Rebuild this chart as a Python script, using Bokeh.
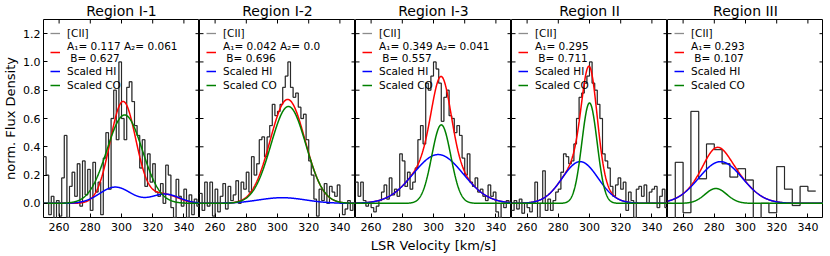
import numpy as np
from bokeh.plotting import figure
from bokeh.layouts import row
from bokeh.models import Range1d, FixedTicker, Legend, LegendItem, PrintfTickFormatter
from bokeh.embed import file_html
from bokeh.resources import INLINE

FONT = "DejaVu Sans"

regions = ["Region I-1", "Region I-2", "Region I-3", "Region II", "Region III"]
fit_labels = [
    "A\u2081= 0.117 A\u2082= 0.061\n B= 0.627",
    "A\u2081= 0.042 A\u2082= 0.0\n B= 0.696",
    "A\u2081= 0.349 A\u2082= 0.041\n B= 0.557",
    "A\u2081= 0.295\n B= 0.711",
    "A\u2081= 0.293\n B= 0.107",
]
x_ticks = [260, 280, 300, 320, 340]
y_ticks = [0.0, 0.2, 0.4, 0.6, 0.8, 1.0, 1.2]
x_lim = (250, 350)
y_lim = (-0.1, 1.3)

# [CII] spectra: channel start velocity, channel width (km/s) and channel values
cii_start = [250.0, 250.0, 250.0, 250.0, 250.0]
cii_width = [5 / 3, 5 / 3, 5 / 3, 5 / 3, 5.0]
cii_i1 = [0.33, 0.20, -0.08, 0.05, -0.11, 0.02, -0.09, 0.18, 0.48, -0.10,
          0.12, 0.22, 0.05, 0.28, -0.02, 0.30, 0.06, 0.24, -0.05, 0.29,
          0.08, 0.15, -0.08, 0.32, 0.50, 0.10, 0.60, 0.80, 0.45, 1.00,
          0.60, 0.45, 0.82, 0.86, 0.72, 0.55, 0.48, 0.25, 0.45, 0.12,
          0.35, 0.15, 0.28, 0.08, 0.05, 0.14, 0.00, 0.27, 0.20, -0.03,
          -0.10, 0.17, 0.05, -0.02, 0.10, -0.10, 0.06, -0.08, 0.03, -0.02]
cii_i2 = [0.07, -0.05, 0.15, -0.02, 0.15, -0.09, 0.10, -0.06, 0.05, 0.14,
          -0.04, 0.12, 0.02, 0.06, 0.16, 0.00, 0.15, 0.10, 0.22, 0.08,
          0.33, 0.20, 0.28, 0.45, 0.47, 0.33, 0.47, 0.55, 0.70, 0.62,
          0.65, 0.70, 0.82, 0.90, 1.00, 0.82, 0.75, 0.78, 0.68, 0.60,
          0.63, 0.45, 0.30, 0.20, 0.03, -0.09, 0.10, 0.02, 0.14, 0.00,
          0.12, 0.08, 0.05, 0.13, 0.00, -0.08, -0.04, 0.02, -0.05, 0.00]
cii_i3 = [0.15, 0.05, 0.15, 0.02, -0.02, 0.00, -0.03, -0.06, -0.02, 0.02,
          0.08, 0.13, 0.03, 0.18, 0.06, 0.10, 0.05, 0.35, 0.30, 0.12,
          0.22, 0.10, 0.15, 0.25, 0.45, 0.55, 0.42, 0.85, 0.80, 0.90,
          1.00, 0.95, 0.85, 0.58, 0.75, 0.80, 0.62, 0.60, 0.50, 0.55,
          0.48, 0.32, 0.20, 0.35, 0.15, 0.12, 0.18, 0.08, 0.10, 0.05,
          0.02, 0.13, 0.05, 0.08, -0.06, -0.10, 0.00, -0.03, 0.02, 0.00]
cii_ii = [-0.05, 0.02, -0.04, 0.03, -0.07, 0.00, -0.03, -0.06, 0.00, 0.15,
          -0.10, 0.00, 0.23, -0.05, 0.03, -0.05, 0.02, 0.08, 0.10, 0.22,
          0.35, 0.33, 0.28, 0.30, 0.42, 0.60, 0.75, 0.78, 0.85, 0.90,
          1.00, 0.85, 0.80, 0.70, 0.60, 0.35, 0.30, 0.25, 0.12, 0.05,
          0.13, 0.18, 0.10, 0.15, -0.05, 0.08, 0.02, -0.10, 0.10, 0.12,
          0.05, 0.13, 0.00, 0.08, 0.10, 0.12, -0.03, 0.05, 0.10, -0.03]
cii_iii = [-0.15, 0.29, -0.066, 0.65, 0.174, 0.42, 0.38, 0.28, 0.186, 0.245,
           0.165, -0.15, 0.0, -0.066, 0.26, 0.10, -0.015, 0.12, 0.087]
cii_values = [cii_i1, cii_i2, cii_i3, cii_ii, cii_iii]

# Model components: (amplitude, centre km/s, sigma km/s)
hi_components = [
    [(0.115, 296.0, 10.0), (0.065, 328.0, 9.0)],
    [(0.040, 303.0, 15.0)],
    [(0.345, 303.0, 16.0)],
    [(0.295, 294.0, 11.5)],
    [(0.295, 284.0, 14.0)],
]
co_components = [
    [(0.625, 302.0, 11.3)],
    [(0.685, 307.0, 11.2)],
    [(0.555, 305.0, 6.1)],
    [(0.710, 300.0, 4.9)],
    [(0.105, 281.0, 7.0)],
]
fit_components = [
    [(0.720, 301.0, 8.3), (0.065, 327.0, 9.0)],
    [(0.735, 306.5, 11.2)],
    [(0.345, 303.0, 16.0), (0.555, 305.0, 6.1)],
    [(0.295, 294.0, 11.5), (0.710, 300.0, 4.9)],
    [(0.295, 284.0, 14.0), (0.105, 281.0, 7.0)],
]

v_model = np.linspace(x_lim[0], x_lim[1], 501)


def model(components):
    y = np.zeros_like(v_model)
    for a, c, s in components:
        y += a * np.exp(-0.5 * ((v_model - c) / s) ** 2)
    return y


def style_axis(axis):
    axis.major_label_text_font = FONT
    axis.major_label_text_font_size = "11px"
    axis.major_label_text_color = "black"
    axis.major_tick_in = 4
    axis.major_tick_out = 0
    axis.minor_tick_in = 0
    axis.minor_tick_out = 0
    axis.axis_line_color = None
    axis.major_tick_line_color = "black"
    axis.axis_label_text_font = FONT
    axis.axis_label_text_font_size = "13px"
    axis.axis_label_text_font_style = "normal"
    axis.axis_label_text_color = "black"


panels = []
for i in range(5):
    first = i == 0
    p = figure(frame_width=156, frame_height=198,
               x_range=Range1d(*x_lim), y_range=Range1d(*y_lim),
               output_backend="svg", toolbar_location=None, title=regions[i],
               min_border_left=0, min_border_right=0, min_border_top=0, min_border_bottom=0)
    p.title.text_font = FONT
    p.title.text_font_size = "14px"
    p.title.text_font_style = "normal"
    p.title.text_color = "black"
    p.title.align = "center"
    p.title.standoff = 1
    p.grid.visible = False
    p.outline_line_color = "black"
    p.outline_line_alpha = 1.0
    p.outline_line_width = 1
    p.background_fill_color = "white"

    xa = p.xaxis[0]
    xa.ticker = FixedTicker(ticks=x_ticks)
    style_axis(xa)
    xa.major_label_standoff = 5
    if i == 2:
        xa.axis_label = "LSR Velocity [km/s]"
    xa.axis_label_standoff = 4

    ya = p.yaxis[0]
    if first:
        ya.ticker = FixedTicker(ticks=y_ticks)
        ya.formatter = PrintfTickFormatter(format="%.1f")
        style_axis(ya)
        ya.major_label_standoff = 3
        ya.axis_label = "norm. Flux Density"
        ya.axis_label_standoff = 2
    else:
        ya.visible = False
        # inward tick marks on the left spine
        p.ray(x=[x_lim[0]] * len(y_ticks), y=y_ticks, length=4, length_units="screen",
              angle=0, line_color="black", line_width=1)

    # inward tick marks on the top and right spines
    p.ray(x=x_ticks, y=[y_lim[1]] * len(x_ticks), length=4, length_units="screen",
          angle=-np.pi / 2, line_color="black", line_width=1)
    p.ray(x=[x_lim[1]] * len(y_ticks), y=y_ticks, length=4, length_units="screen",
          angle=np.pi, line_color="black", line_width=1)

    vals = cii_values[i]
    edges = [cii_start[i] + k * cii_width[i] for k in range(len(vals) + 1)]
    ys = list(vals) + [vals[-1]]
    r_leg = p.step(edges, ys, mode="after", line_color="#8c8c8c", line_width=1.3)
    p.step(edges, ys, mode="after", line_color="black", line_width=0.7)

    r_fit = p.line(v_model, model(fit_components[i]), line_color="#ff0000", line_width=1.5)
    r_hi = p.line(v_model, model(hi_components[i]), line_color="#0000ff", line_width=1.5)
    r_co = p.line(v_model, model(co_components[i]), line_color="#008000", line_width=1.5)

    legend = Legend(items=[
        LegendItem(label="[CII]", renderers=[r_leg]),
        LegendItem(label=fit_labels[i], renderers=[r_fit]),
        LegendItem(label="Scaled HI", renderers=[r_hi]),
        LegendItem(label="Scaled CO", renderers=[r_co]),
    ], location="top_left")
    legend.border_line_color = None
    legend.background_fill_alpha = 0.0
    legend.label_text_font = FONT
    legend.label_text_font_size = "10.5px"
    legend.label_text_color = "black"
    legend.label_height = 14
    legend.glyph_height = 14
    legend.glyph_width = 10
    legend.label_standoff = 7
    legend.spacing = 0
    legend.padding = 2
    legend.margin = 7
    p.add_layout(legend, "center")
    panels.append(p)

layout = row(*panels)
open("out.html", "w").write(file_html(layout, INLINE))
